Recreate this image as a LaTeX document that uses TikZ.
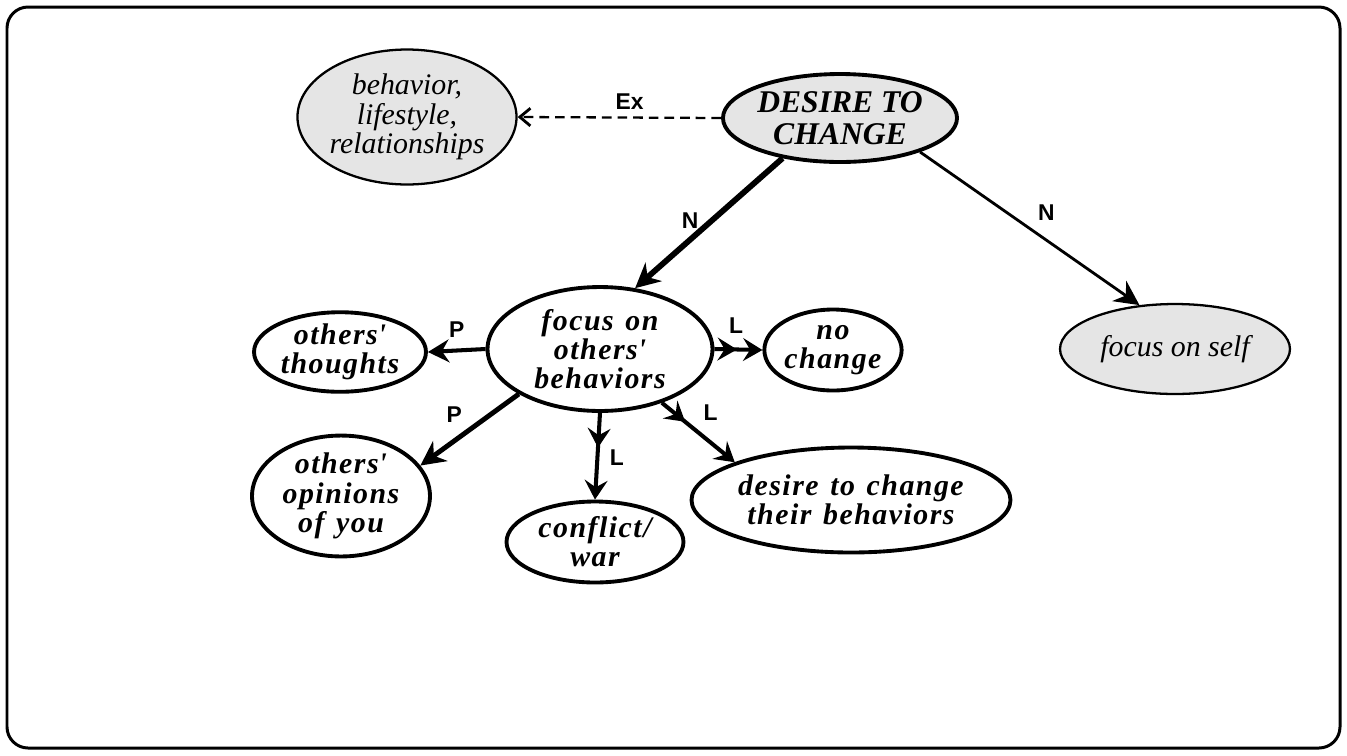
\documentclass[tikz,border=0pt]{standalone}
\usepackage{fontspec}
\setmainfont{Liberation Serif}
\setsansfont{Liberation Sans}
\newfontfamily\spacedfont[LetterSpace=5,WordSpace=1.3]{Liberation Serif}
\usetikzlibrary{shapes.geometric,arrows.meta,decorations.markings}

\begin{document}
\begin{tikzpicture}[x=0.02cm,y=-0.02cm,
    bubble/.style={ellipse,draw,inner sep=0pt,align=center,line width=2.2pt,
        font=\spacedfont\bfseries\itshape\fontsize{17}{16.6}\selectfont},
    shaded/.style={ellipse,draw,fill=gray!20,inner sep=0pt,align=center,line width=1.3pt,
        font=\itshape\fontsize{17}{16.8}\selectfont},
    lbl/.style={font=\sffamily\bfseries\fontsize{13}{13}\selectfont,inner sep=1pt},
    tip/.style={-{Stealth[length=14pt,width=14pt,inset=4.5pt]}},
    twotip/.style={-{Stealth[length=11pt,width=13pt,inset=4pt]},
        postaction={decorate},
        decoration={markings,mark=at position #1 with {\arrow{Stealth[length=11pt,width=13pt,inset=4pt]}}}}]
    \useasboundingbox (0,0) rectangle (1347,755);
    \draw[line width=1.7pt,rounded corners=12pt] (7,7) rectangle (1340,748);

    % top row
    \node[shaded,line width=2.2pt,minimum width=4.1cm,minimum height=1.76cm,
          font=\bfseries\itshape\fontsize{18}{18}\selectfont] (desire) at (840,118) {DESIRE TO\\CHANGE};
    \node[shaded,minimum width=4.1cm,minimum height=2.7cm] (behav) at (407,117) {behavior,\\lifestyle,\\relationships};
    \node[shaded,minimum width=4.6cm,minimum height=1.8cm] (self) at (1175,349) {focus on self};

    % middle
    \node[bubble,minimum width=4.5cm,minimum height=2.48cm] (focus) at (600,349) {focus on\\others\textquotesingle\\behaviors};
    \node[bubble,minimum width=3.44cm,minimum height=1.5cm] (thoughts) at (340,352) {others\textquotesingle\\thoughts};
    \node[bubble,minimum width=2.24cm,minimum height=1.62cm] (nochange) at (833,350) {no\\change};

    % bottom row
    \node[bubble,minimum width=3.56cm,minimum height=2.3cm] (opinions) at (341,496) {others\textquotesingle\\opinions\\of you};
    \node[bubble,minimum width=3.54cm,minimum height=1.62cm] (conflict) at (595,542) {conflict/\\war};
    \node[bubble,minimum width=5.12cm,minimum height=2.1cm] (theirbeh) at (851,500) {desire to change\\their behaviors};

    % connectors
    \draw[line width=1.3pt,dash pattern=on 5.5pt off 3.4pt,-{Straight Barb[length=6pt,width=10pt,line width=1.6pt]}]
        (desire.west) -- (behav.east) node[lbl,pos=.45,above=3pt] {Ex};
    \draw[tip,line width=3.3pt] (desire.215) -- (focus.60) node[lbl,pos=.48,left=5pt] {N};
    \draw[tip,line width=1.6pt] (desire.337) -- (self.129) node[lbl,pos=.5,above right=3pt] {N};
    \draw[tip,line width=2.3pt,-{Stealth[length=12pt,width=13pt,inset=4pt]}] (focus.west) -- (thoughts.east) node[lbl,midway,above=5pt] {P};
    \draw[tip,line width=2.8pt] (focus.209) -- (opinions.21) node[lbl,midway,above left=2pt] {P};
    \draw[twotip=.47,line width=2.3pt] (focus.east) -- (nochange.west) node[lbl,pos=.45,above=7pt] {L};
    \draw[twotip=.4,line width=2.3pt] (focus.south) -- (conflict.north) node[lbl,pos=.52,right=5pt] {L};
    \draw[twotip=.32,line width=2.3pt] (focus.319) -- (theirbeh.162) node[lbl,pos=.45,above right=3pt] {L};
\end{tikzpicture}
\end{document}
